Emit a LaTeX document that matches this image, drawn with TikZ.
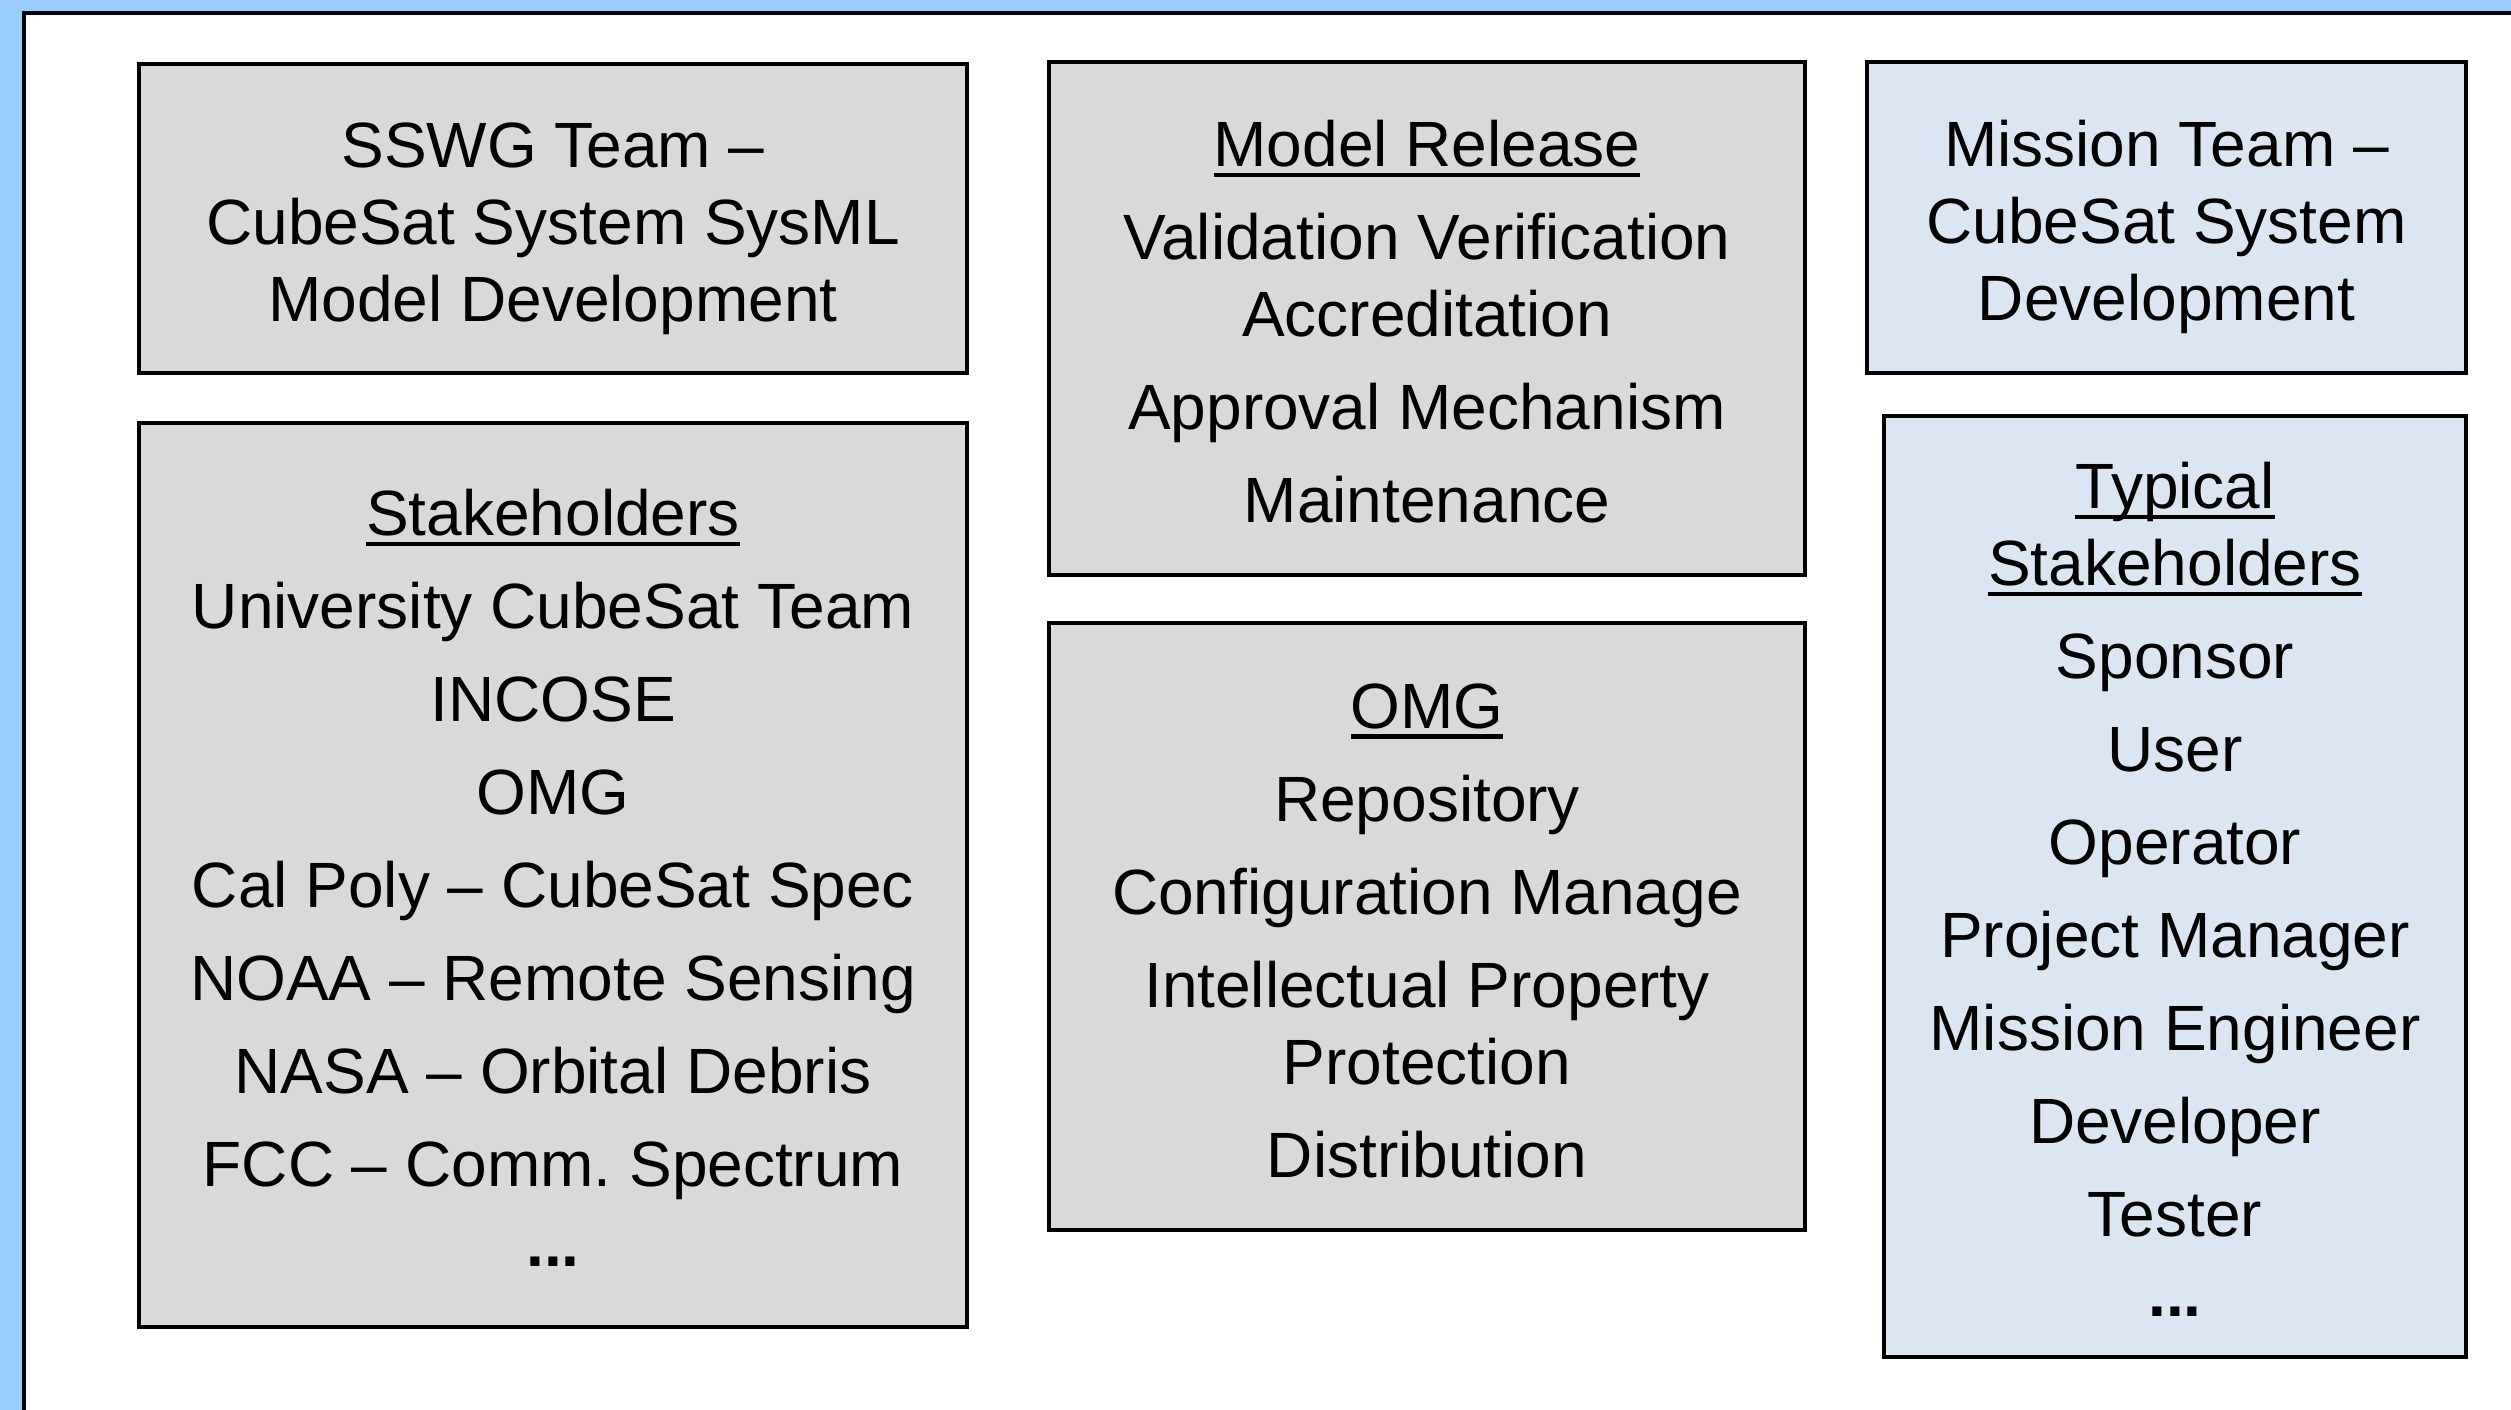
\documentclass[tikz,border=0pt]{standalone}
\usepackage{fontspec}
\setmainfont{Liberation Sans}
\definecolor{frameblue}{RGB}{153,204,255}
\definecolor{panelgray}{RGB}{217,217,217}
\definecolor{panelblue}{RGB}{220,230,242}
\newcommand{\panelstrut}{\rule{0pt}{18.9pt}}
\newcommand{\panelul}[1]{\setbox0\hbox{#1}\rlap{\rule[-2.6pt]{\wd0}{1.1pt}}\box0}
\tikzset{every picture/.style={line width=0.9pt}}
\tikzset{
  panel/.style={draw=black, line width=0.9pt, align=center, inner sep=0pt,
    font=\fontsize{16}{19.25}\selectfont,
    execute at end node={\strut}},
  graypanel/.style={panel, fill=panelgray},
  bluepanel/.style={panel, fill=panelblue},
}

\begin{document}
\begin{tikzpicture}[x=0.25pt,y=0.25pt,yscale=-1,xscale=1]
\useasboundingbox (0,0) rectangle (2511,1410);
\clip (0,0) rectangle (2511,1410);

%Shape: Background frame
\fill [frameblue] (0,0) rectangle (2511,1410);
\draw [fill=white, line width=0.8pt] (24,13) rectangle (2600,1500);

%Shape: Rectangle SSWG
\node [graypanel, minimum width=207pt, minimum height=77.25pt] (sswg) at (553,218.5)
  {\panelstrut SSWG Team --\\CubeSat System SysML\\Model Development};
%Shape: Rectangle Stakeholders
\node [graypanel, minimum width=207pt, minimum height=226pt] (stake) at (553,875)
  {\panelstrut\panelul{Stakeholders}\\[4pt]University CubeSat Team\\[4pt]INCOSE\\[4pt]OMG\\[4pt]Cal Poly -- CubeSat Spec\\[4pt]NOAA -- Remote Sensing\\[4pt]NASA -- Orbital Debris\\[4pt]FCC -- Comm.\ Spectrum\\[0.8pt]\textbf{...}};

%Shape: Rectangle Model Release
\node [graypanel, minimum width=189pt, minimum height=128.25pt] (release) at (1427,318.5)
  {\panelstrut\panelul{Model Release}\\[4pt]Validation Verification\\Accreditation\\[4pt]Approval Mechanism\\[4pt]Maintenance};
%Shape: Rectangle OMG
\node [graypanel, minimum width=189pt, minimum height=151.75pt] (omg) at (1427,926.5)
  {\panelstrut\panelul{OMG}\\[4pt]Repository\\[4pt]Configuration Manage\\[4pt]Intellectual Property\\Protection\\[4pt]Distribution};

%Shape: Rectangle Mission
\node [bluepanel, minimum width=149.75pt, minimum height=77.75pt] (mission) at (2166.5,217.5)
  {\panelstrut Mission Team --\\CubeSat System\\Development};
%Shape: Rectangle Typical
\node [bluepanel, minimum width=145.5pt, minimum height=235.25pt] (typical) at (2175,886.5)
  {\panelstrut\panelul{Typical}\\\panelul{Stakeholders}\\[4pt]Sponsor\\[4pt]User\\[4pt]Operator\\[4pt]Project Manager\\[4pt]Mission Engineer\\[4pt]Developer\\[4pt]Tester\\[0.8pt]\textbf{...}};
\end{tikzpicture}
\end{document}
